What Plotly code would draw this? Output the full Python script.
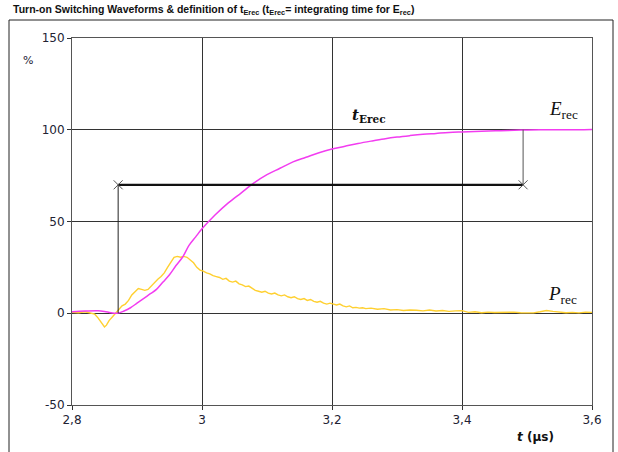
import plotly.graph_objects as go

# ---- data ----
t_prec = [2.800, 2.810, 2.820, 2.830, 2.835, 2.840, 2.845, 2.850, 2.853, 2.857, 2.862, 2.867,
          2.872, 2.877, 2.882, 2.887, 2.892, 2.897, 2.902, 2.907, 2.912, 2.917, 2.922, 2.927,
          2.932, 2.937, 2.942, 2.947, 2.952, 2.957, 2.962, 2.967, 2.972, 2.977, 2.982, 2.987,
          2.992, 2.997, 3.002, 3.007, 3.012, 3.017, 3.022, 3.027, 3.032, 3.037, 3.042, 3.047,
          3.052, 3.057, 3.062, 3.067, 3.072, 3.077, 3.082, 3.087, 3.092, 3.097, 3.102, 3.107,
          3.112, 3.117, 3.122, 3.127, 3.132, 3.137, 3.142, 3.147, 3.152, 3.157, 3.162, 3.167,
          3.172, 3.177, 3.182, 3.187, 3.192, 3.197, 3.202, 3.207, 3.212, 3.217, 3.222, 3.227,
          3.232, 3.237, 3.242, 3.247, 3.252, 3.260, 3.270, 3.280, 3.290, 3.300, 3.310, 3.320,
          3.330, 3.340, 3.350, 3.360, 3.370, 3.380, 3.390, 3.400, 3.410, 3.420, 3.430, 3.440,
          3.450, 3.460, 3.470, 3.480, 3.490, 3.500, 3.510, 3.520, 3.530, 3.540, 3.550, 3.560,
          3.570, 3.580, 3.590, 3.600]
p_rec = [0.5, 0.3, 0.8, 0.2, -0.5, -2.5, -5.0, -7.5, -6.5, -4.0, -2.0, 0.0,
         2.5, 4.0, 5.0, 7.0, 10.0, 12.0, 13.5, 13.0, 12.5, 13.0, 15.0, 17.0,
         18.5, 20.0, 22.0, 25.0, 28.0, 30.5, 31.0, 30.5, 31.0, 30.5, 29.0, 27.5,
         25.0, 23.5, 23.0, 22.0, 21.5, 20.5, 20.0, 19.5, 18.5, 19.0, 17.5, 17.0,
         17.5, 16.0, 15.5, 14.5, 14.8, 13.5, 12.5, 12.0, 11.5, 12.0, 11.0, 10.5,
         11.0, 10.0, 9.5, 10.0, 9.0, 8.5, 9.0, 8.0, 7.5, 8.0, 7.0, 7.5,
         6.5, 6.0, 6.5, 5.5, 5.0, 5.5, 5.0, 4.5, 5.0, 4.0, 3.5, 4.0,
         3.0, 3.2, 2.8, 3.0, 2.5, 2.8, 2.2, 2.5, 1.8, 2.0, 1.5, 1.8,
         1.6, 1.3, 1.8, 1.2, 1.5, 1.0, 1.3, 1.4, 0.5, 0.8, 0.3, 0.6,
         0.4, 0.5, 0.2, 0.6, 0.3, 0.4, 0.2, 0.8, 1.5, 1.0, 0.6, 0.3,
         0.5, 0.2, 0.6, 0.5]

t_erec = [2.800, 2.820, 2.840, 2.850, 2.860, 2.870, 2.880, 2.890, 2.900, 2.910, 2.920, 2.930,
          2.940, 2.950, 2.960, 2.970, 2.980, 2.990, 3.000, 3.020, 3.040, 3.060, 3.080, 3.100,
          3.120, 3.140, 3.160, 3.180, 3.200, 3.220, 3.240, 3.260, 3.280, 3.300, 3.320, 3.340,
          3.360, 3.380, 3.400, 3.430, 3.460, 3.490, 3.520, 3.560, 3.600]
e_rec = [0.8, 1.2, 1.4, 1.0, 0.3, 0.0, 1.2, 3.0, 5.5, 8.0, 10.5, 13.0,
         17.0, 21.0, 26.0, 30.5, 37.0, 41.5, 46.0, 53.5, 60.0, 65.5, 71.0, 75.5,
         79.0, 82.5, 85.0, 87.5, 89.5, 91.0, 92.5, 93.8, 95.0, 96.0, 96.8, 97.5,
         98.0, 98.5, 98.8, 99.2, 99.5, 99.8, 100.0, 100.0, 100.2]

# integrating interval tErec
t_start = 2.871
t_end = 3.494
level_bar = 70
level_end = 100

x_ticks = [2.8, 3.0, 3.2, 3.4, 3.6]
y_ticks = [-50, 0, 50, 100, 150]
y_tick_text = ["-50", "0", "50", "100", "150"]

fig = go.Figure()

# Prec & Erec curves
fig.add_trace(go.Scatter(x=t_prec, y=p_rec, mode="lines",
                         line=dict(color="#FFD030", width=1.4), showlegend=False))
fig.add_trace(go.Scatter(x=t_erec, y=e_rec, mode="lines", line_shape="spline",
                         line=dict(color="#F23CF0", width=1.5), showlegend=False))

# vertical helper lines
fig.add_trace(go.Scatter(x=[t_start, t_start], y=[0, level_bar], mode="lines",
                         line=dict(color="#222222", width=1), showlegend=False))
fig.add_trace(go.Scatter(x=[t_end, t_end], y=[level_bar, level_end], mode="lines",
                         line=dict(color="#555555", width=1), showlegend=False))
# horizontal bar with x markers
fig.add_trace(go.Scatter(x=[t_start, t_end], y=[level_bar, level_bar], mode="lines+markers",
                         line=dict(color="#111111", width=2.2),
                         marker=dict(symbol="x-thin", size=9,
                                     line=dict(color="#555555", width=1)),
                         showlegend=False))

axis_common = dict(showline=True, linecolor="#555555", linewidth=1, mirror=True,
                   showgrid=True, gridcolor="#333333", gridwidth=1, zeroline=False,
                   ticks="outside", ticklen=4, tickcolor="#333333",
                   tickfont=dict(family="DejaVu Sans", size=12, color="#222233"))

fig.update_xaxes(range=[2.8, 3.6], tickvals=x_ticks, **axis_common)
fig.update_yaxes(range=[-50, 150], tickvals=y_ticks, ticktext=y_tick_text, **axis_common)

# plot area in page pixels: x 72..592, y 38..405
def px(xp):
    return (xp - 72) / 520

def py(yp):
    return (405 - yp) / 367

ctr = dict(showarrow=False, xanchor="center", yanchor="middle")
annotations = [
    dict(text="<i>E</i><span style='font-size:19px'><sub>rec</sub></span>",
         x=3.556, y=111, xref="x", yref="y",
         font=dict(family="Liberation Serif", size=19, color="#111111"), **ctr),
    dict(text="<i>P</i><span style='font-size:19px'><sub>rec</sub></span>",
         x=3.555, y=10, xref="x", yref="y",
         font=dict(family="Liberation Serif", size=19, color="#111111"), **ctr),
    dict(text="<b><i>t</i></b><b><sub>Erec</sub></b>",
         x=3.257, y=108, xref="x", yref="y",
         font=dict(family="DejaVu Serif", size=15, color="#111111"), **ctr),
    dict(text="%", x=px(28), y=py(60), xref="paper", yref="paper",
         font=dict(family="DejaVu Sans", size=11, color="#222233"), **ctr),
    dict(text="<b><i>t</i> (µs)</b>", x=px(535), y=py(437), xref="paper", yref="paper",
         font=dict(family="DejaVu Sans", size=12, color="#111111"), **ctr),
    dict(text="<b>Turn-on Switching Waveforms &amp; definition of t<sub>Erec</sub> "
              "(t<sub>Erec</sub>= integrating time for E<sub>rec</sub>)</b>",
         x=px(11), y=py(10), xref="paper", yref="paper", showarrow=False,
         xanchor="left", yanchor="middle",
         font=dict(family="Liberation Sans", size=10.5, color="#111111")),
]

fig.update_layout(
    width=618, height=452,
    margin=dict(l=72, r=26, t=38, b=47),
    paper_bgcolor="white", plot_bgcolor="white",
    separators=",.",
    annotations=annotations,
    shapes=[dict(type="rect", xref="paper", yref="paper",
                 x0=px(9), x1=px(613), y0=py(470), y1=py(20),
                 line=dict(color="#222222", width=1), layer="below")],
)

# remove the default 8px page margin so the figure fills the window exactly
fig.write_html("out.html",
               config={"displayModeBar": False},
               post_script="document.body.style.margin='0';document.body.style.overflow='hidden';")
